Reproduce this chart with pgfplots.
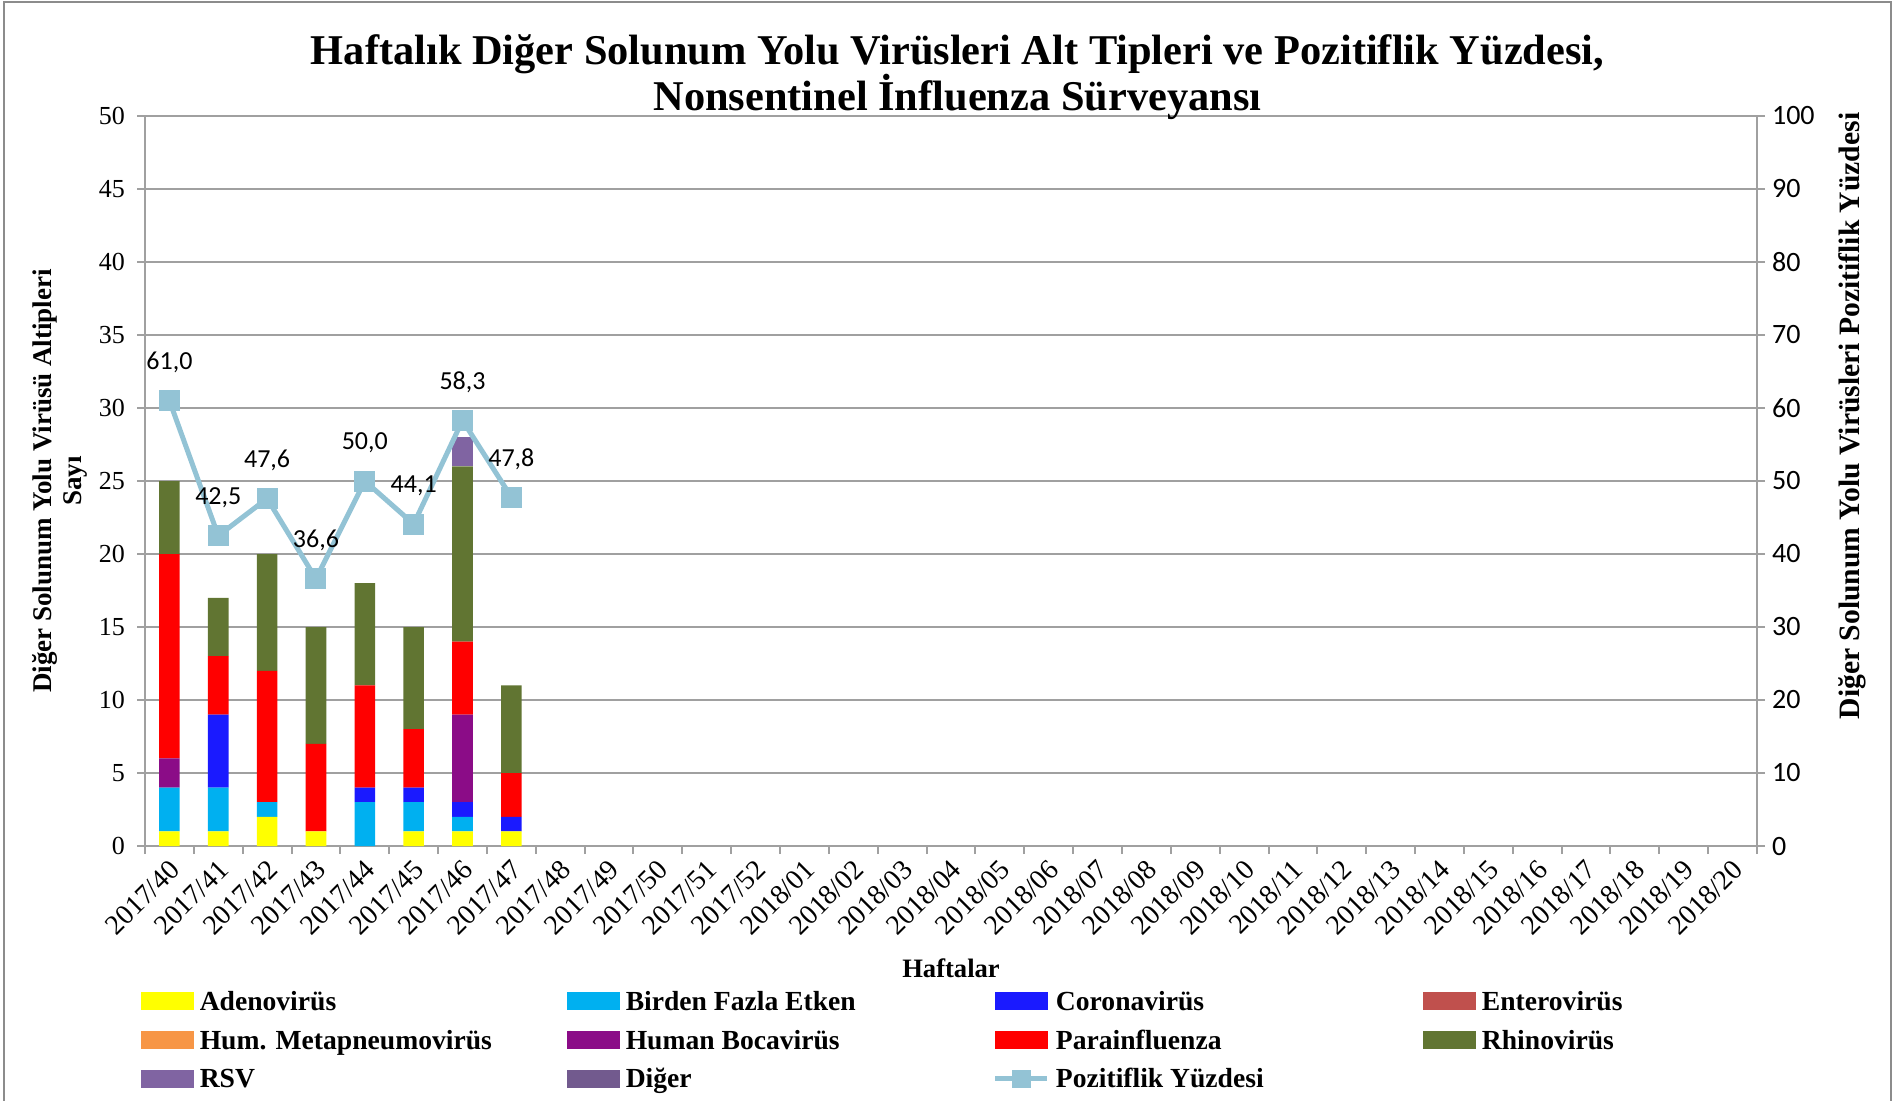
\documentclass[border=0pt]{standalone}
\usepackage{pgfplots}
\usepackage{pgfplotstable}
\pgfplotsset{compat=1.18}
\usepackage{fontspec}
\setmainfont{Liberation Serif}
\newfontfamily\calibri{Carlito}
\definecolor{cAdeno}{HTML}{FFFF00}
\definecolor{cBirden}{HTML}{00B0F0}
\definecolor{cCorona}{HTML}{1A1AFF}
\definecolor{cEntero}{HTML}{C0504D}
\definecolor{cHMPV}{HTML}{F79646}
\definecolor{cBoca}{HTML}{8B0C87}
\definecolor{cPara}{HTML}{FF0000}
\definecolor{cRhino}{HTML}{617532}
\definecolor{cRSV}{HTML}{8064A2}
\definecolor{cDiger}{HTML}{725A8E}
\definecolor{cLine}{HTML}{93C3D5}
\definecolor{cGrid}{HTML}{A0A0A0}
\definecolor{cBorder}{HTML}{8C8C8C}

\pgfplotstableread{
x adeno birden corona entero hmpv boca para rhino rsv diger
0 1 3 0 0 0 2 14 5 0 0
1 1 3 5 0 0 0 4 4 0 0
2 2 1 0 0 0 0 9 8 0 0
3 1 0 0 0 0 0 6 8 0 0
4 0 3 1 0 0 0 7 7 0 0
5 1 2 1 0 0 0 4 7 0 0
6 1 1 1 0 0 6 5 12 2 0
7 1 0 1 0 0 0 3 6 0 0
}\virdata

\pgfplotstableread{
x y lab
0 61.0 61,0
1 42.5 42,5
2 47.6 47,6
3 36.6 36,6
4 50.0 50,0
5 44.1 44,1
6 58.3 58,3
7 47.8 47,8
}\posdata

\pgfplotsset{
  sw/.style={legend image code/.code={\fill[#1] (0pt,-3.3pt) rectangle (26pt,5.2pt);}},
  common/.style={width=806pt, height=365pt, scale only axis, at={(72.5pt,127pt)}, anchor=south west,
    xmin=-0.5, xmax=32.5, clip=false, /pgf/number format/assume math mode=true},
}

\begin{document}
\begin{tikzpicture}
\useasboundingbox (0,0) rectangle (947pt,550pt);
\draw[cBorder, line width=1pt] (2pt,-5pt) -- (2pt,549pt) -- (945.5pt,549pt) -- (945.5pt,-5pt);

\begin{axis}[common,
  ymin=0, ymax=50, ytick={0,5,...,50},
  ybar stacked, bar width=10.3pt,
  axis lines*=left, axis line style={-, cGrid, line width=1pt},
  ymajorgrids, grid style={cGrid, line width=1pt},
  tick align=outside, major tick length=4pt, minor tick length=4pt,
  ytick style={cGrid, line width=1pt},
  major x tick style={draw=none},
  minor x tick style={cGrid, line width=1pt},
  xtick={0,...,32},
  minor xtick={-0.5,0.5,...,32.5},
  xticklabels={2017/40,2017/41,2017/42,2017/43,2017/44,2017/45,2017/46,2017/47,2017/48,2017/49,2017/50,2017/51,2017/52,2018/01,2018/02,2018/03,2018/04,2018/05,2018/06,2018/07,2018/08,2018/09,2018/10,2018/11,2018/12,2018/13,2018/14,2018/15,2018/16,2018/17,2018/18,2018/19,2018/20},
  xticklabel style={xshift=2.8pt, yshift=-5.5pt, rotate=45, anchor=east, inner sep=0pt, font=\fontsize{14}{16}\selectfont},
  yticklabel style={font=\fontsize{13}{15}\selectfont, xshift=-2.5pt},
  ]
\addplot[fill=cAdeno, draw=none] table[x=x,y=adeno]{\virdata};
\addplot[fill=cBirden, draw=none] table[x=x,y=birden]{\virdata};
\addplot[fill=cCorona, draw=none] table[x=x,y=corona]{\virdata};
\addplot[fill=cEntero, draw=none] table[x=x,y=entero]{\virdata};
\addplot[fill=cHMPV, draw=none] table[x=x,y=hmpv]{\virdata};
\addplot[fill=cBoca, draw=none] table[x=x,y=boca]{\virdata};
\addplot[fill=cPara, draw=none] table[x=x,y=para]{\virdata};
\addplot[fill=cRhino, draw=none] table[x=x,y=rhino]{\virdata};
\addplot[fill=cRSV, draw=none] table[x=x,y=rsv]{\virdata};
\addplot[fill=cDiger, draw=none] table[x=x,y=diger]{\virdata};
\end{axis}

\begin{axis}[common,
  ymin=0, ymax=100, ytick={0,10,...,100},
  axis x line=none, axis y line*=right, axis line style={-, cGrid, line width=1pt},
  tick align=outside, major tick length=4pt,
  ytick style={cGrid, line width=1pt},
  yticklabel style={font=\calibri\fontsize{14}{16}\selectfont},
  legend columns=4, legend cell align=left,
  legend style={draw=none, fill=none, inner sep=0pt, outer sep=0pt, column sep=0pt, row sep=0pt,
    at={(-0.0025,-0.1888)}, anchor=north west,
    nodes={text height=10.6pt, text depth=3.2pt, inner xsep=0pt, inner ysep=2.75pt, font=\bfseries\fontsize{13.8}{15}\selectfont},
    /tikz/every odd column/.append style={column sep=3pt},
    /tikz/every even column/.append style={column sep=0pt}},
  ]
\addlegendimage{sw=cAdeno}\addlegendentry{\makebox[183.6pt][l]{Adenovirüs}}
\addlegendimage{sw=cBirden}\addlegendentry{\makebox[183.6pt][l]{Birden Fazla Etken}}
\addlegendimage{sw=cCorona}\addlegendentry{\makebox[183.6pt][l]{Coronavirüs}}
\addlegendimage{sw=cEntero}\addlegendentry{\makebox[183.6pt][l]{Enterovirüs}}
\addlegendimage{sw=cHMPV}\addlegendentry{\makebox[183.6pt][l]{Hum. Metapneumovirüs}}
\addlegendimage{sw=cBoca}\addlegendentry{\makebox[183.6pt][l]{Human Bocavirüs}}
\addlegendimage{sw=cPara}\addlegendentry{\makebox[183.6pt][l]{Parainfluenza}}
\addlegendimage{sw=cRhino}\addlegendentry{\makebox[183.6pt][l]{Rhinovirüs}}
\addlegendimage{sw=cRSV}\addlegendentry{\makebox[183.6pt][l]{RSV}}
\addlegendimage{sw=cDiger}\addlegendentry{\makebox[183.6pt][l]{Diğer}}
\addlegendimage{legend image code/.code={\draw[cLine, line width=2.5pt] (0pt,0.95pt) -- (26pt,0.95pt); \fill[cLine] (8.5pt,-3.3pt) rectangle (17.5pt,5.2pt);}}
\addlegendentry{\makebox[183.6pt][l]{Pozitiflik Yüzdesi}}
\addplot[forget plot, cLine, line width=2.5pt, mark=square*, mark size=5pt,
  mark options={fill=cLine, draw=cLine, line width=0.5pt, solid},
  nodes near coords, point meta=explicit symbolic,
  nodes near coords style={font=\calibri\fontsize{13}{15}\selectfont, text=black, anchor=center, yshift=19pt}]
  table[x=x, y=y, meta=lab]{\posdata};
\node[rotate=90, align=center, font=\bfseries\fontsize{13.5}{15}\selectfont] at (axis description cs:-0.0527,0.5) {Diğer Solunum Yolu Virüsü Altipleri\\Sayı};
\node[rotate=90, font=\bfseries\fontsize{14.8}{16}\selectfont] at (axis description cs:1.059,0.589) {Diğer Solunum Yolu Virüsleri Pozitiflik Yüzdesi};
\node[font=\bfseries\fontsize{13.3}{15}\selectfont] at (axis description cs:0.5,-0.168) {Haftalar};
\node[align=center, font=\bfseries\fontsize{21.2}{23}\selectfont] at (axis description cs:0.504,1.053) {Haftalık Diğer Solunum Yolu Virüsleri Alt Tipleri ve Pozitiflik Yüzdesi,\\Nonsentinel İnfluenza Sürveyansı};
\end{axis}
\end{tikzpicture}
\end{document}
